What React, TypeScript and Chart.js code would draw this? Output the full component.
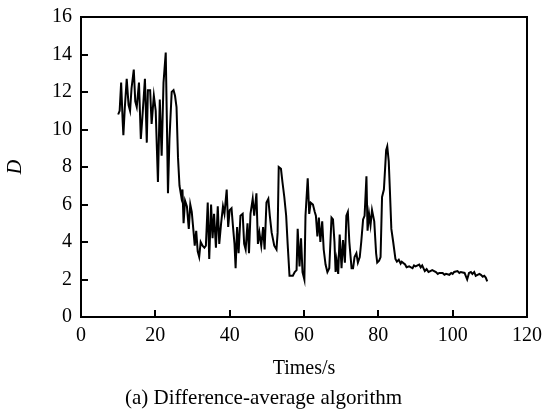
import React, { useEffect, useRef } from "react";
import { Chart, registerables } from "chart.js";

Chart.register(...registerables);

const times: number[] = [
  10.0, 10.4, 10.8, 11.2, 11.4, 11.8, 12.3, 12.8, 13.2, 13.6, 14.2, 14.6, 15.0, 15.6, 16.1, 16.5, 17.2, 17.7, 18.0, 18.6,
  19.0, 19.6, 20.1, 20.7, 21.2, 21.7, 22.2, 22.8, 23.1, 23.4, 23.8, 24.4, 24.9, 25.3, 25.7, 26.1, 26.5, 27.0, 27.3, 27.6,
  28.0, 28.5, 29.0, 29.4, 29.8, 30.3, 30.6, 31.0, 31.4, 31.8, 32.2, 32.7, 33.2, 33.6, 34.1, 34.5, 35.0, 35.4, 35.8, 36.3,
  36.8, 37.2, 37.7, 38.2, 38.6, 39.2, 39.6, 40.0, 40.5, 40.9, 41.3, 41.6, 42.0, 42.4, 42.9, 43.5, 43.9, 44.3, 44.8, 45.2,
  45.6, 46.2, 46.6, 47.2, 47.6, 48.0, 48.5, 49.0, 49.4, 49.9, 50.4, 50.8, 51.3, 52.0, 52.6, 52.9, 53.2, 53.8, 54.2, 54.7,
  55.2, 55.6, 56.1, 57.0, 57.5, 58.0, 58.3, 58.8, 59.2, 59.6, 60.1, 60.4, 61.0, 61.4, 61.8, 62.4, 62.9, 63.2, 63.6, 64.0,
  64.4, 64.9, 65.3, 65.8, 66.3, 66.8, 67.4, 67.8, 68.2, 68.5, 68.8, 69.2, 69.6, 70.1, 70.5, 71.0, 71.4, 71.8, 72.2, 72.8,
  73.2, 73.6, 74.1, 74.5, 75.0, 75.4, 75.9, 76.3, 76.8, 77.1, 77.5, 77.9, 78.3, 78.7, 78.9, 79.4, 79.7, 80.2, 80.6, 81.0,
  81.5, 82.1, 82.4, 82.8, 83.1, 83.5, 84.0, 84.6, 85.0, 85.5, 86.0, 86.3, 87.2, 87.6, 88.3, 89.2, 89.6, 90.0, 91.0, 91.4,
  91.8, 92.5, 93.0, 93.5, 94.0, 94.5, 95.5, 96.0, 96.4, 97.3, 97.8, 98.2, 99.1, 99.6, 100.0, 100.4, 101.3, 101.8, 102.2, 103.2,
  103.9, 104.4, 104.9, 105.3, 105.8, 106.2, 106.7, 107.2, 107.6, 108.1, 108.5, 108.9, 109.3,
];

const dValues: number[] = [
  10.8, 11.0, 12.5, 10.5, 9.7, 11.2, 12.7, 11.3, 11.0, 12.2, 13.2, 11.5, 11.2, 12.5, 9.5, 10.6, 12.7, 9.3, 12.1, 12.1,
  10.3, 11.8, 11.0, 7.2, 11.6, 8.6, 12.5, 14.1, 10.5, 6.6, 9.5, 12.0, 12.1, 11.8, 11.2, 8.5, 7.0, 6.4, 6.8, 5.0,
  6.2, 5.9, 4.7, 6.0, 5.6, 4.5, 3.8, 4.6, 3.5, 3.2, 4.0, 3.8, 3.7, 3.8, 6.1, 3.1, 6.0, 4.2, 5.5, 3.7,
  5.9, 3.9, 5.0, 5.9, 5.5, 6.8, 4.8, 5.7, 5.8, 4.8, 3.9, 2.6, 4.8, 3.4, 5.4, 5.5, 3.9, 3.6, 5.0, 3.4,
  5.5, 6.3, 5.4, 6.6, 3.9, 4.5, 3.8, 4.8, 3.6, 6.1, 6.3, 5.4, 4.5, 3.8, 3.6, 4.5, 8.0, 7.9, 7.2, 6.4,
  5.4, 3.9, 2.2, 2.2, 2.4, 2.5, 4.7, 2.7, 4.2, 2.4, 2.0, 5.4, 7.4, 5.5, 6.1, 6.0, 5.6, 5.4, 4.3, 5.3,
  4.0, 5.1, 3.6, 2.8, 2.4, 2.6, 5.3, 5.2, 4.0, 2.4, 3.0, 2.3, 4.4, 2.6, 4.1, 2.9, 5.4, 5.6, 4.0, 2.6,
  2.6, 3.2, 3.4, 2.9, 3.2, 4.0, 5.2, 5.4, 7.5, 4.6, 5.5, 4.9, 5.7, 5.3, 5.1, 3.4, 2.9, 3.0, 3.2, 6.4,
  6.8, 8.9, 9.1, 8.3, 6.8, 4.7, 4.0, 3.1, 2.95, 3.05, 2.85, 2.95, 2.8, 2.65, 2.7, 2.6, 2.75, 2.7, 2.8, 2.65,
  2.75, 2.45, 2.55, 2.4, 2.45, 2.5, 2.4, 2.3, 2.35, 2.35, 2.25, 2.3, 2.25, 2.35, 2.3, 2.4, 2.45, 2.35, 2.4, 2.35,
  2.0, 2.35, 2.4, 2.3, 2.4, 2.2, 2.25, 2.3, 2.25, 2.15, 2.2, 2.1, 1.9,
];

const xTickValues: number[] = [0, 20, 40, 60, 80, 100, 120];
const yTickValues: number[] = [0, 2, 4, 6, 8, 10, 12, 14, 16];

const xTitle = "Times/s";
const yTitle = "D";
const caption = "(a) Difference-average algorithm";

const FONT = '"Liberation Serif", "Times New Roman", serif';

const framePlugin = {
  id: "frame",
  afterDraw(chart: any) {
    const { ctx, chartArea } = chart;
    const xs = chart.scales.x;
    const ys = chart.scales.y;
    ctx.save();
    ctx.strokeStyle = "#000";
    ctx.lineWidth = 2;
    ctx.strokeRect(chartArea.left, chartArea.top, chartArea.right - chartArea.left, chartArea.bottom - chartArea.top);
    ctx.beginPath();
    for (const v of xTickValues) {
      if (v === xTickValues[0] || v === xTickValues[xTickValues.length - 1]) continue;
      const px = Math.round(xs.getPixelForValue(v));
      ctx.moveTo(px, chartArea.bottom);
      ctx.lineTo(px, chartArea.bottom - 7);
    }
    for (const v of yTickValues) {
      if (v === yTickValues[0] || v === yTickValues[yTickValues.length - 1]) continue;
      const py = Math.round(ys.getPixelForValue(v));
      ctx.moveTo(chartArea.left, py);
      ctx.lineTo(chartArea.left + 7, py);
    }
    ctx.stroke();
    ctx.restore();
  },
};

export default function App() {
  const ref = useRef<HTMLCanvasElement | null>(null);

  useEffect(() => {
    if (!ref.current) return;
    const points = times.map((t, i) => ({ x: t, y: dValues[i] }));
    const chart = new Chart(ref.current, {
      type: "line",
      data: {
        datasets: [
          {
            data: points,
            borderColor: "#000",
            borderWidth: 2,
            pointRadius: 0,
            tension: 0,
            fill: false,
          },
        ],
      },
      options: {
        responsive: false,
        animation: false,
        devicePixelRatio: 1,
        layout: { padding: { left: 0, right: 15, top: 17, bottom: 0 } },
        plugins: {
          legend: { display: false },
          tooltip: { enabled: false },
          title: {
            display: true,
            position: "bottom",
            text: caption,
            color: "#000",
            font: { family: FONT, size: 21, weight: "normal" },
            padding: { top: 0, bottom: 6 },
          },
        },
        scales: {
          x: {
            type: "linear",
            min: 0,
            max: 120,
            afterBuildTicks: (scale: any) => {
              scale.ticks = xTickValues.map((v) => ({ value: v }));
            },
            afterFit: (scale: any) => {
              scale.height = 68.8;
              scale.paddingLeft = 0;
              scale.paddingRight = 0;
            },
            grid: { display: false, drawTicks: false },
            border: { display: false },
            ticks: {
              color: "#000",
              font: { family: FONT, size: 20 },
              padding: 7,
              maxRotation: 0,
            },
            title: {
              display: true,
              text: xTitle,
              color: "#000",
              font: { family: FONT, size: 20 },
              padding: { top: 0, bottom: 4.8 },
            },
          },
          y: {
            type: "linear",
            min: 0,
            max: 16,
            afterBuildTicks: (scale: any) => {
              scale.ticks = yTickValues.map((v) => ({ value: v }));
            },
            afterFit: (scale: any) => {
              scale.width = 81;
              scale.paddingTop = 0;
              scale.paddingBottom = 0;
            },
            grid: { display: false, drawTicks: false },
            border: { display: false },
            ticks: {
              color: "#000",
              font: { family: FONT, size: 20 },
              padding: 9,
            },
            title: {
              display: true,
              text: yTitle,
              color: "#000",
              font: { family: FONT, size: 20, style: "italic" },
              padding: { top: 4, bottom: 0 },
            },
          },
        },
      },
      plugins: [framePlugin],
    });
    return () => chart.destroy();
  }, []);

  return (
    <div style={{ position: "absolute", left: 0, top: 0, width: 542, height: 417, background: "#fff" }}>
      <canvas ref={ref} width={542} height={417} style={{ display: "block" }} />
    </div>
  );
}
